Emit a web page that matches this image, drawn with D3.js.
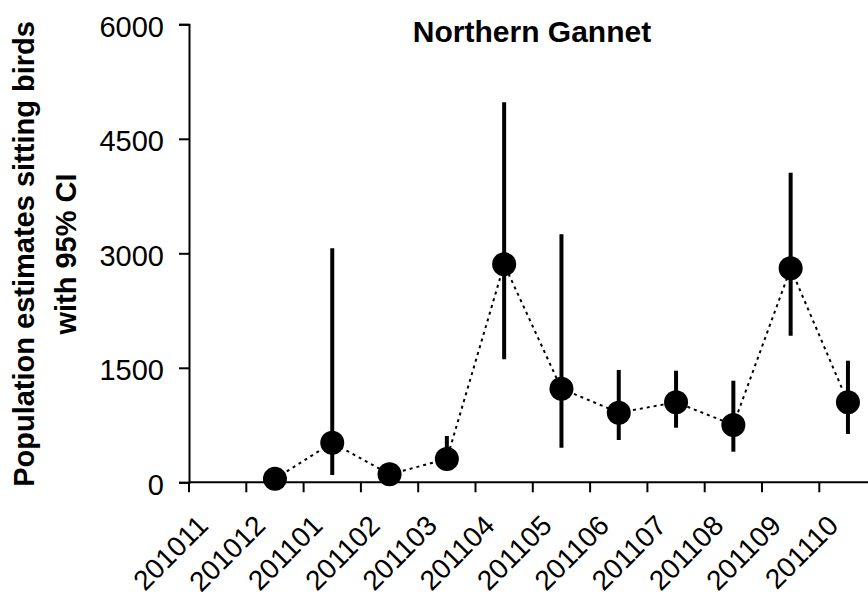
<!DOCTYPE html>
<html>
<head>
<meta charset="utf-8">
<script src="https://cdn.jsdelivr.net/npm/d3@7"></script>
<style>
  html, body { margin: 0; padding: 0; background: #ffffff; }
  svg { display: block; }
  text { font-family: "Liberation Sans", Arial, sans-serif; fill: #000; }
</style>
</head>
<body>
<svg id="chart" width="868" height="600"></svg>
<script>
// Monthly survey periods (category axis)
const months = ["201011", "201012", "201101", "201102", "201103", "201104",
                "201105", "201106", "201107", "201108", "201109", "201110"];

// Months that have an estimate
const surveyMonths = ["201012", "201101", "201102", "201103", "201104", "201105",
                      "201106", "201107", "201108", "201109", "201110"];

// Population estimates of sitting birds
const estimates = [45, 519, 105, 305, 2856, 1226, 912, 1048, 751, 2803, 1048];

// 95% confidence interval bounds
const ciLower = [20, 96, 50, 180, 1611, 453, 554, 715, 401, 1920, 633];
const ciUpper = [80, 3065, 170, 607, 4978, 3249, 1471, 1462, 1331, 4056, 1593];

// Value axis ticks
const yTicks = [0, 1500, 3000, 4500, 6000];

const titleText = "Northern Gannet";
const yTitleLines = ["Population estimates sitting birds", "with 95% CI"];

const svg = d3.select("#chart");
const FONT = 29;

const plotLeft = 189, plotBottom = 482.3, plotTop = 24.3, bandW = 57.3;

const x = d3.scaleBand()
  .domain(months)
  .range([plotLeft, plotLeft + bandW * months.length])
  .paddingInner(0)
  .paddingOuter(0);

const y = d3.scaleLinear()
  .domain([0, 6000])
  .range([plotBottom, plotTop]);

const cx = m => x(m) + x.bandwidth() / 2;

const data = surveyMonths.map((m, i) => ({
  month: m, value: estimates[i], lo: ciLower[i], hi: ciUpper[i]
}));

// Y axis
const yAxis = svg.append("g")
  .attr("transform", `translate(${plotLeft},0)`)
  .call(d3.axisLeft(y).tickValues(yTicks).tickSize(10).tickPadding(15).tickFormat(d3.format("d")));
yAxis.select(".domain").attr("stroke", "#000").attr("stroke-width", 2);
yAxis.selectAll(".tick line").attr("stroke", "#000").attr("stroke-width", 2);
yAxis.selectAll(".tick text")
  .attr("font-size", FONT)
  .attr("font-family", "Liberation Sans, Arial, sans-serif")
  .attr("dy", "0.42em");

// X axis line
svg.append("line")
  .attr("x1", plotLeft).attr("x2", 868)
  .attr("y1", y(0)).attr("y2", y(0))
  .attr("stroke", "#000").attr("stroke-width", 2);

// X ticks at category boundaries
svg.append("g").selectAll("line")
  .data(months)
  .join("line")
  .attr("x1", m => x(m)).attr("x2", m => x(m))
  .attr("y1", y(0)).attr("y2", y(0) + 10)
  .attr("stroke", "#000").attr("stroke-width", 2);

// X tick labels, rotated
svg.append("g").selectAll("text")
  .data(months)
  .join("text")
  .attr("transform", m => `translate(${cx(m) - 8},${y(0) + 45}) rotate(-45)`)
  .attr("text-anchor", "end")
  .attr("font-size", 28)
  .text(m => m);

// Dotted line connecting the estimates
svg.append("path")
  .datum(data)
  .attr("fill", "none")
  .attr("stroke", "#000")
  .attr("stroke-width", 2)
  .attr("stroke-dasharray", "3,4")
  .attr("d", d3.line().x(d => cx(d.month)).y(d => y(d.value)));

// Confidence interval bars
svg.append("g").selectAll("line")
  .data(data)
  .join("line")
  .attr("x1", d => cx(d.month)).attr("x2", d => cx(d.month))
  .attr("y1", d => y(d.lo)).attr("y2", d => y(d.hi))
  .attr("stroke", "#000").attr("stroke-width", 4);

// Estimate markers
svg.append("g").selectAll("circle")
  .data(data)
  .join("circle")
  .attr("cx", d => cx(d.month))
  .attr("cy", d => y(d.value))
  .attr("r", 12)
  .attr("fill", "#000");

// Title
svg.append("text")
  .attr("x", 532).attr("y", 42)
  .attr("text-anchor", "middle")
  .attr("font-size", 30)
  .attr("font-weight", "bold")
  .text(titleText);

// Y axis title (two lines)
const yTitle = svg.append("text")
  .attr("transform", "translate(34,254) rotate(-90)")
  .attr("text-anchor", "middle")
  .attr("font-size", FONT)
  .attr("font-weight", "bold");
yTitle.selectAll("tspan")
  .data(yTitleLines)
  .join("tspan")
  .attr("x", 0)
  .attr("y", (d, i) => i * 42)
  .text(d => d);
</script>
</body>
</html>
